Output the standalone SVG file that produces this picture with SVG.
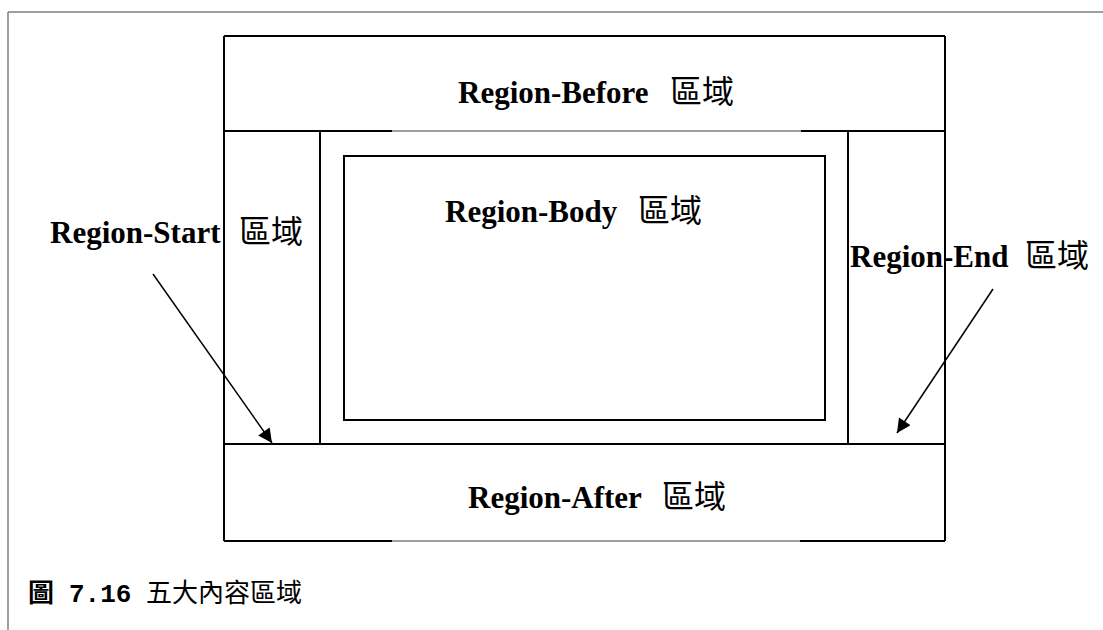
<svg xmlns="http://www.w3.org/2000/svg" width="1103" height="630" viewBox="0 0 1103 630">
<defs>
<style>
.dk{stroke:#000;stroke-width:2;fill:none}
.gr{stroke:#7f7f7f;stroke-width:1.5;fill:none}
.lbl{font-family:"Liberation Serif","Noto Sans CJK TC",serif;font-weight:bold;font-size:31px;fill:#000}
.cjk{font-family:"Noto Sans CJK TC",sans-serif;font-weight:normal;font-size:32px}
.cap{font-family:"Liberation Mono","Noto Sans CJK TC",monospace;font-size:26px;fill:#000}
</style>
<marker id="ah" viewBox="0 0 10 10" refX="10" refY="5" markerWidth="16" markerHeight="14" markerUnits="userSpaceOnUse" orient="auto">
<path d="M0,0 L10,5 L0,10 z" fill="#000"/>
</marker>
</defs>
<rect width="1103" height="630" fill="#fff"/>
<g id="frame">
<line class="gr" x1="8" y1="12" x2="1103" y2="12"/>
<line class="gr" x1="8" y1="12" x2="8" y2="630"/>
</g>
<g id="region-before">
<line class="dk" x1="224" y1="36" x2="945" y2="36"/>
<line class="dk" x1="224" y1="131" x2="392" y2="131"/>
<line class="gr" x1="392" y1="131" x2="801" y2="131"/>
<line class="dk" x1="801" y1="131" x2="945" y2="131"/>
<text class="lbl" y="103"><tspan x="458">Region-Before</tspan><tspan class="cjk" x="670">區域</tspan></text>
</g>
<g id="region-start">
<line class="dk" x1="224" y1="36" x2="224" y2="541"/>
<line class="dk" x1="320" y1="131" x2="320" y2="444"/>
<text class="lbl" y="243"><tspan x="50">Region-Start</tspan><tspan class="cjk" x="239">區域</tspan></text>
</g>
<g id="region-body">
<rect class="dk" x="344" y="156" width="481" height="264"/>
<text class="lbl" y="222"><tspan x="445">Region-Body</tspan><tspan class="cjk" x="638">區域</tspan></text>
</g>
<g id="region-end">
<line class="dk" x1="945" y1="36" x2="945" y2="541"/>
<line class="dk" x1="848" y1="131" x2="848" y2="444"/>
<text class="lbl" y="267"><tspan x="850">Region-End</tspan><tspan class="cjk" x="1025">區域</tspan></text>
</g>
<g id="region-after">
<line class="dk" x1="224" y1="444" x2="945" y2="444"/>
<line class="dk" x1="224" y1="541" x2="392" y2="541"/>
<line class="gr" x1="392" y1="541" x2="800" y2="541"/>
<line class="dk" x1="800" y1="541" x2="945" y2="541"/>
<text class="lbl" y="508"><tspan x="468">Region-After</tspan><tspan class="cjk" x="662">區域</tspan></text>
</g>
<g id="connectors">
<line x1="153" y1="274" x2="272" y2="443" stroke="#000" stroke-width="1.5" marker-end="url(#ah)"/>
<line x1="993" y1="289" x2="897" y2="433" stroke="#000" stroke-width="1.5" marker-end="url(#ah)"/>
</g>
<g id="caption">
<text class="cap" y="602"><tspan x="28" font-family="Noto Sans CJK TC, sans-serif" font-weight="bold">圖</tspan><tspan x="69" font-weight="bold">7.16</tspan><tspan x="146" font-family="Noto Sans CJK TC, sans-serif">五大內容區域</tspan></text>
</g>
</svg>
